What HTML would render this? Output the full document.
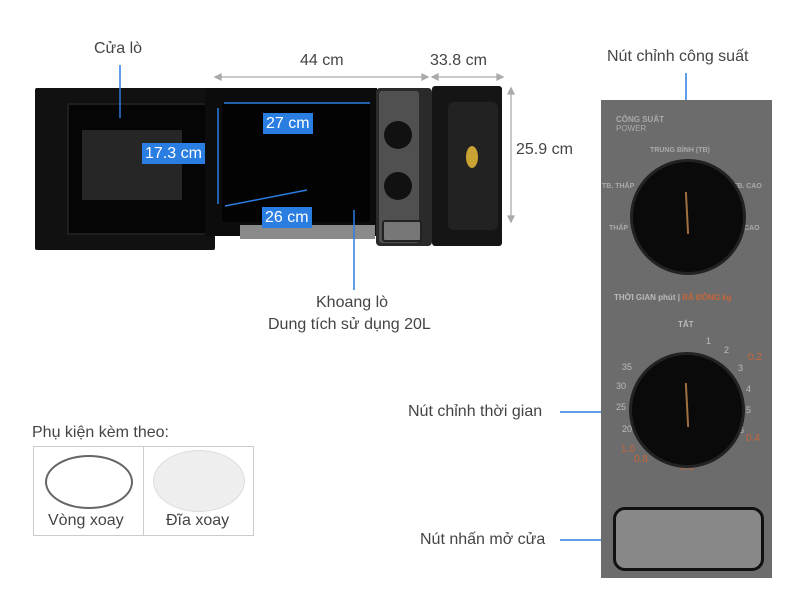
<!DOCTYPE html>
<html><head><meta charset="utf-8"><style>
body{margin:0;width:800px;height:600px;background:#fff;position:relative;overflow:hidden;font-family:"Liberation Sans","Noto Sans CJK SC",sans-serif}
.a{position:absolute}
.t{position:absolute;color:#444;font-size:16px;white-space:nowrap}
.lbl{position:absolute;background:#2a7de1;color:#fff;font-size:16px;padding:1px 3px;line-height:19px}
.n{position:absolute;color:#bbb;font-size:9px}
.o{position:absolute;color:#c8663a;font-size:10px}
</style></head><body>
<div class="a" style="left:35px;top:88px;width:180px;height:162px;background:#111;border-radius:2px"></div>
<div class="a" style="left:67px;top:103px;width:140px;height:128px;background:#050505;border:2px solid #1e1e1e"></div>
<div class="a" style="left:82px;top:130px;width:100px;height:70px;background:#262626"></div>
<div class="a" style="left:205px;top:88px;width:172px;height:148px;background:#0c0c0c"></div>
<div class="a" style="left:222px;top:104px;width:148px;height:118px;background:#030303"></div>
<div class="a" style="left:240px;top:225px;width:135px;height:14px;background:#8a8a8a"></div>
<div class="a" style="left:376px;top:88px;width:56px;height:158px;background:#2a2a2a;border-radius:4px"></div>
<div class="a" style="left:379px;top:91px;width:40px;height:152px;background:#505050;border-radius:3px"></div>
<div class="a" style="left:384px;top:121px;width:28px;height:28px;background:#111;border-radius:50%"></div>
<div class="a" style="left:384px;top:172px;width:28px;height:28px;background:#111;border-radius:50%"></div>
<div class="a" style="left:382px;top:220px;width:36px;height:18px;background:#777;border:2px solid #222;border-radius:3px"></div>
<div class="a" style="left:432px;top:86px;width:70px;height:160px;background:#151515;border-radius:3px"></div>
<div class="a" style="left:448px;top:102px;width:50px;height:128px;background:#222;border-radius:6px"></div>
<div class="a" style="left:466px;top:146px;width:12px;height:22px;background:#c9a433;border-radius:50%"></div>
<svg class="a" style="left:0;top:0" width="800" height="600">
<g stroke="#aaa" stroke-width="1.3" fill="#aaa">
<line x1="215" y1="77" x2="428" y2="77"/><line x1="432" y1="77" x2="503" y2="77"/>
<line x1="511" y1="88" x2="511" y2="222"/>
<path d="M215 77l6-3v6z M428 77l-6-3v6z M432 77l6-3v6z M503 77l-6-3v6z M511 88l-3 6h6z M511 222l-3-6h6z"/>
</g>
<g stroke="#2a7de1" stroke-width="1.5" fill="#2a7de1">
<line x1="224" y1="103" x2="370" y2="103"/>
<line x1="218" y1="108" x2="218" y2="204"/>
<line x1="225" y1="206" x2="307" y2="190"/>
<line x1="120" y1="65" x2="120" y2="118"/>
<line x1="354" y1="210" x2="354" y2="290"/>
<line x1="686" y1="73" x2="686" y2="212"/>
<line x1="560" y1="412" x2="665" y2="412"/>
<line x1="560" y1="540" x2="665" y2="540"/>
</g>
</svg>
<div class="lbl" style="left:263px;top:113px">27 cm</div>
<div class="lbl" style="left:142px;top:143px">17.3 cm</div>
<div class="lbl" style="left:262px;top:207px">26 cm</div>
<div class="t" style="left:94px;top:40px">Cửa lò</div>
<div class="t" style="left:300px;top:52px">44 cm</div>
<div class="t" style="left:430px;top:52px">33.8 cm</div>
<div class="t" style="left:516px;top:141px">25.9 cm</div>
<div class="t" style="left:316px;top:294px">Khoang lò</div>
<div class="t" style="left:268px;top:316px">Dung tích sử dụng 20L</div>
<div class="t" style="left:607px;top:48px">Nút chỉnh công suất</div>
<div class="t" style="left:408px;top:403px">Nút chỉnh thời gian</div>
<div class="t" style="left:420px;top:531px">Nút nhấn mở cửa</div>
<div class="t" style="left:32px;top:424px">Phụ kiện kèm theo:</div>
<div class="a" style="left:33px;top:446px;width:219px;height:88px;border:1px solid #ccc"></div>
<div class="a" style="left:143px;top:446px;width:1px;height:90px;background:#ccc"></div>
<div class="a" style="left:45px;top:455px;width:84px;height:50px;border:2px solid #666;border-radius:50%"></div>
<div class="a" style="left:153px;top:450px;width:90px;height:60px;background:#eee;border:1px solid #ddd;border-radius:50%"></div>
<div class="t" style="left:48px;top:512px">Vòng xoay</div>
<div class="t" style="left:166px;top:512px">Đĩa xoay</div>
<div class="a" style="left:601px;top:100px;width:171px;height:478px;background:#6c6c6c"></div>
<div class="a" style="left:616px;top:115px;color:#aaa;font-size:8px;font-weight:bold">CÔNG SUẤT<br><span style="font-weight:normal">POWER</span></div>
<div class="a" style="left:650px;top:147px;color:#aaa;font-size:7px;font-weight:bold">TRUNG BÌNH (TB)</div>
<div class="a" style="left:602px;top:183px;color:#aaa;font-size:7px;font-weight:bold">TB. THẤP</div>
<div class="a" style="left:733px;top:183px;color:#aaa;font-size:7px;font-weight:bold">TB. CAO</div>
<div class="a" style="left:609px;top:225px;color:#aaa;font-size:7px;font-weight:bold">THẤP</div>
<div class="a" style="left:744px;top:225px;color:#aaa;font-size:7px;font-weight:bold">CAO</div>
<div class="a" style="left:614px;top:293px;color:#bbb;font-size:8px;font-weight:bold">THỜI GIAN phút | <span style="color:#c8663a">RÃ ĐÔNG kg</span></div>
<div class="a" style="left:678px;top:320px;color:#bbb;font-size:8px;font-weight:bold">TẮT</div>
<div class="n" style="left:706px;top:336px">1</div><div class="n" style="left:724px;top:345px">2</div>
<div class="n" style="left:738px;top:363px">3</div><div class="n" style="left:746px;top:384px">4</div>
<div class="n" style="left:746px;top:405px">5</div><div class="n" style="left:739px;top:425px">6</div>
<div class="n" style="left:727px;top:440px">7</div><div class="n" style="left:708px;top:451px">8</div>
<div class="n" style="left:622px;top:362px">35</div><div class="n" style="left:616px;top:381px">30</div>
<div class="n" style="left:616px;top:402px">25</div><div class="n" style="left:622px;top:424px">20</div>
<div class="o" style="left:748px;top:352px">0.2</div><div class="o" style="left:746px;top:433px">0.4</div>
<div class="o" style="left:680px;top:462px">0.6</div><div class="o" style="left:634px;top:454px">0.8</div>
<div class="o" style="left:621px;top:444px">1.0</div>
<div class="a" style="left:630px;top:159px;width:110px;height:110px;background:#0a0a0a;border:3px solid #222;border-radius:50%"></div>
<div class="a" style="left:686px;top:192px;width:2px;height:42px;background:#a07040;transform:rotate(-3deg)"></div>
<div class="a" style="left:629px;top:352px;width:110px;height:110px;background:#0a0a0a;border:3px solid #222;border-radius:50%"></div>
<div class="a" style="left:686px;top:383px;width:2px;height:44px;background:#a07040;transform:rotate(-3deg)"></div>
<div class="a" style="left:613px;top:507px;width:145px;height:58px;background:#888;border:3px solid #111;border-radius:12px"></div>
</body></html>
